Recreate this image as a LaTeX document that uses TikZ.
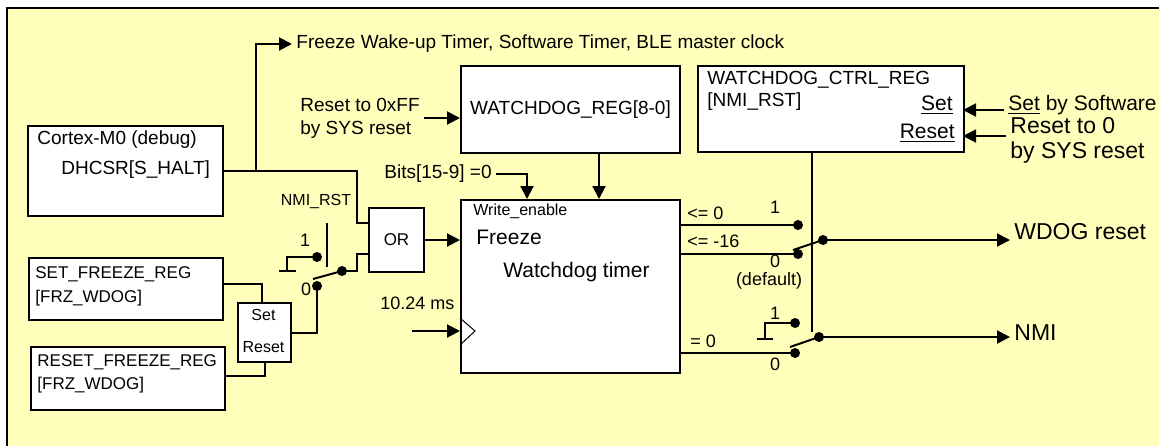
\documentclass[tikz,border=0pt]{standalone}
\usepackage{fontspec}
\setmainfont{Liberation Sans}
\usepackage{tikz}
\usetikzlibrary{arrows.meta,positioning,calc}
\definecolor{wPaper}{RGB}{255,255,187}
\definecolor{wInk}{RGB}{0,0,0}
\colorlet{cBack}{wPaper}
\colorlet{cLine}{wInk}
\tikzset{
	blk/.style={draw=cLine,line width=1pt,fill=white,anchor=north west,inner sep=0pt},
	wire/.style={draw=cLine,line width=1pt},
	sig/.style={wire,-{Triangle[length=6.5pt,width=6.5pt]}},
	pin/.style={circle,fill=cLine,inner sep=0pt,minimum size=5pt},
	lbl/.style={inner sep=2pt,anchor=west,text=cLine},
	fTiny/.style={font=\fontsize{8}{9.5}\selectfont},
	fSmall/.style={font=\fontsize{8.5}{10}\selectfont},
	fNote/.style={font=\fontsize{9}{10.5}\selectfont},
	fBody/.style={font=\fontsize{9.5}{11.5}\selectfont},
	fMid/.style={font=\fontsize{10.5}{12}\selectfont},
	fBig/.style={font=\fontsize{11.5}{12.5}\selectfont}
}

\begin{document}
\begin{tikzpicture}[x=0.5pt,y=-0.5pt]
			\useasboundingbox (0,0) rectangle (1159,446);
			\fill[white] (0,0) rectangle (1159,446);
			\fill[cBack] (7,8) rectangle (1159,446);
			\draw[wire] (7,446) -- (7,8) -- (1159,8);

			% blocks
			\node[blk,minimum width=97.5pt,minimum height=45pt] (cortex) at (27,125) {};
			\node[blk,fBody,minimum width=109.5pt,minimum height=43.5pt] (wdreg) at (460,65) {WATCHDOG\_REG[8-0]};
			\node[blk,minimum width=133pt,minimum height=43pt] (ctrlreg) at (697,65) {};
			\node[blk,fSmall,minimum width=27.5pt,minimum height=32pt] (orgate) at (368,207) {OR};
			\node[blk,minimum width=109.5pt,minimum height=86.5pt] (timer) at (460,199) {};
			\node[blk,minimum width=97pt,minimum height=31pt] (setfrz) at (28,257) {};
			\node[blk,minimum width=97pt,minimum height=31.5pt] (rstfrz) at (30,346) {};
			\node[blk,minimum width=26.5pt,minimum height=29.5pt] (srlatch) at (237,302) {};

			% texts in and around the blocks
			\node[lbl,fBody] (cortexname) at (33,140) {Cortex-M0 (debug)};
			\node[lbl,fBody] (cortexbit) at (57,170) {DHCSR[S\_HALT]};
			\node[lbl,fSmall] (setname) at (31,274) {SET\_FREEZE\_REG};
			\node[lbl,fSmall] (setbit) at (31,298) {[FRZ\_WDOG]};
			\node[lbl,fSmall] (rstname) at (33,362) {RESET\_FREEZE\_REG};
			\node[lbl,fSmall] (rstbit) at (33,385) {[FRZ\_WDOG]};
			\node[fTiny,inner sep=0pt] (srset) at (263.5,315) {Set};
			\node[fTiny,inner sep=0pt] (srrst) at (263.5,347) {Reset};
			\node[lbl,fBody] (frzwake) at (292,44) {Freeze Wake-up Timer, Software Timer, BLE master clock};
			\node[lbl,fBody,align=left] (rstff) at (296,118) {Reset to 0xFF\\by SYS reset};
			\node[lbl,fBody] (bits) at (380,174) {Bits[15-9] =0};
			\node[lbl,fNote] (clklbl) at (376,303) {10.24 ms};
			\node[lbl,fTiny] (wenable) at (469,211) {Write\_enable};
			\node[lbl,fMid] (frzin) at (472,237) {Freeze};
			\node[lbl,fMid] (timername) at (499,272) {Watchdog timer};
			\node[lbl,fBody] (ctrlname) at (703,80) {WATCHDOG\_CTRL\_REG};
			\node[lbl,fBody] (ctrlbit) at (703,102) {[NMI\_RST]};
			\node[lbl,fMid,anchor=east] (ctrlset) at (957,105) {\underline{Set}};
			\node[lbl,fMid,anchor=east] (ctrlrst) at (959,133) {\underline{Reset}};
			\node[lbl,fMid] (swset) at (1004,105) {\underline{Set} by Software};
			\node[lbl,fBig,align=left] (rstsys) at (1006,140) {Reset to 0\\by SYS reset};

			% freeze select switch
			\node[pin] (swa1) at (317,257) {};
			\node[pin] (swa0) at (317,286) {};
			\node[pin] (swapiv) at (342,271) {};
			\coordinate (swatip) at (313,279);
			\coordinate (swatie) at (287,271);
			\coordinate (swactl) at (327,267);
			\node[fTiny,anchor=south,inner sep=2pt] (nmirst) at (316,213) {NMI\_RST};
			\node[fNote,inner sep=0pt] (swa1lbl) at (305,240) {1};
			\node[fNote,inner sep=0pt] (swa0lbl) at (306,289) {0};
			\draw[wire] (swapiv.center) -- (swatip);
			\draw[wire] (swa1.center) -| (swatie);
			\draw[wire] ([xshift=-4pt]swatie) -- ([xshift=4.5pt]swatie);
			\draw[wire] (swactl) -- ++(0,-44);

			% watchdog reset switch
			\node[pin] (swb1) at (798,225) {};
			\node[pin] (swb0) at (798,254) {};
			\node[pin] (swbpiv) at (823,240) {};
			\coordinate (swbtip) at (793,250);
			\node[lbl,fNote] (cmple0) at (683,213) {<= 0};
			\node[lbl,fNote] (cmple16) at (683,241) {<= -16};
			\node[fNote,inner sep=0pt] (swb1lbl) at (775,207) {1};
			\node[fNote,inner sep=0pt] (swb0lbl) at (775,261) {0};
			\node[fNote,inner sep=0pt] (swbdef) at (769,281) {(default)};
			\node[lbl,fBig] (wdogout) at (1010,232) {WDOG reset};
			\draw[wire] (swbpiv.center) -- (swbtip);

			% nmi switch
			\node[pin] (swc1) at (795,323) {};
			\node[pin] (swc0) at (795,353) {};
			\node[pin] (swcpiv) at (819,337) {};
			\coordinate (swctip) at (790,347);
			\coordinate (swctie) at (765,339);
			\node[lbl,fNote] (cmpeq0) at (686,341) {= 0};
			\node[fNote,inner sep=0pt] (swc1lbl) at (775,313) {1};
			\node[fNote,inner sep=0pt] (swc0lbl) at (775,364) {0};
			\node[lbl,fBig] (nmiout) at (1010,333) {NMI};
			\draw[wire] (swcpiv.center) -- (swctip);
			\draw[wire] (swc1.center) -| (swctie);
			\draw[wire] ([xshift=-4pt]swctie) -- ([xshift=4pt]swctie);

			% connections
			\coordinate (haltsplit) at ([xshift=16pt]cortex.east);
			\draw[wire] (cortex.east) -| ([xshift=-5.5pt,yshift=8.5pt]orgate.west) -- ([yshift=8.5pt]orgate.west);
			\draw[sig] (haltsplit) |- (frzwake.west);
			\draw[wire] (swapiv.center) -- ++(15,0) |- ([yshift=-7pt]orgate.west);
			\draw[wire] (swa0.center) |- (srlatch.east);
			\draw[wire] ([yshift=2.5pt]setfrz.east) -| ([xshift=-1.5pt]srlatch.north);
			\draw[wire] ([yshift=1.25pt]rstfrz.east) -| (srlatch.south);
			\draw[sig] (orgate.east) -- (orgate.east -| timer.west);
			\draw[sig] (rstff.east) -- (rstff.east -| wdreg.west);
			\coordinate (cntin) at (599,199);
			\coordinate (wein) at (527,199);
			\draw[sig] (cntin |- wdreg.south) -- (cntin);
			\draw[sig] (bits.east) -| (wein);
			\coordinate (clkin) at (460,331);
			\draw[sig] ([xshift=-24pt]clkin) -- (clkin);
			\draw[line width=0.5pt] ([yshift=6.5pt]clkin) -- ([xshift=7.5pt]clkin) -- ([yshift=-7pt]clkin);
			\draw[wire] (swb1 -| timer.east) -- (swb1.center);
			\draw[wire] (swb0 -| timer.east) -- (swb0.center);
			\draw[wire] (swc0 -| timer.east) -- (swc0.center);
			\draw[sig] (swbpiv.center) -- (swbpiv.center -| wdogout.west);
			\draw[sig] (swcpiv.center) -- (swcpiv.center -| nmiout.west);
			\coordinate (nmisel) at (812,332);
			\draw[wire] (nmisel |- ctrlreg.south) -- (nmisel);
			\coordinate (setin) at (963,110);
			\coordinate (rstin) at (963,136);
			\draw[sig] (setin -| swset.west) -- (setin);
			\draw[sig] (rstin -| rstsys.west) -- (rstin);
		\end{tikzpicture}
\end{document}
